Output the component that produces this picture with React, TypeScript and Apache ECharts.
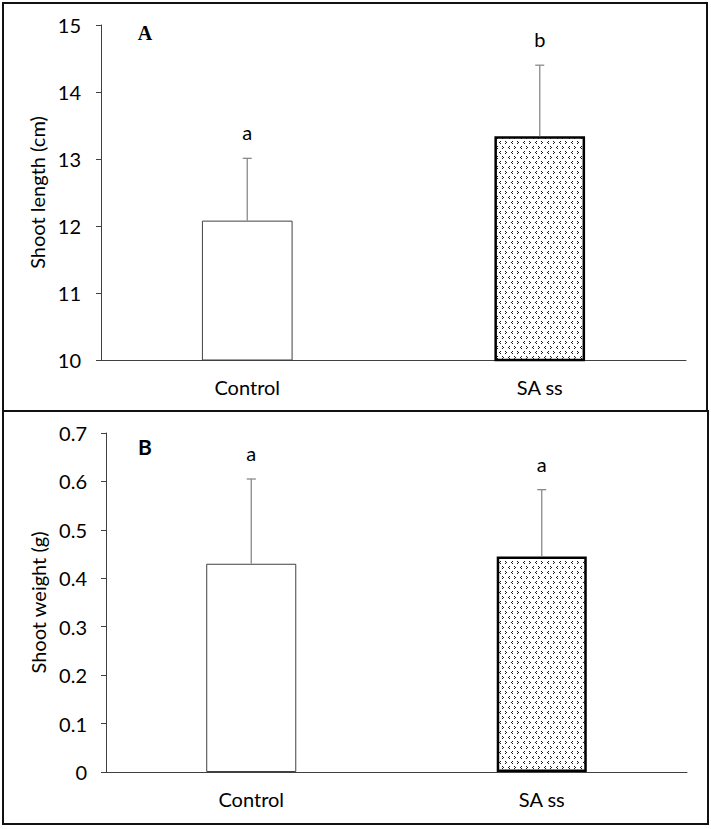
import React, { useEffect, useRef } from 'react';
import * as echarts from 'echarts';

const categories = ['Control', 'SA ss'];

const lengthMeans = [12.08, 13.34];
const lengthErrTops = [13.01, 14.4];
const lengthLetters = ['a', 'b'];
const lengthAxis = { min: 10, max: 15, interval: 1 };

const weightMeans = [0.43, 0.445];
const weightErrTops = [0.605, 0.583];
const weightLetters = ['a', 'a'];
const weightAxis = { min: 0, max: 0.7, interval: 0.1 };

const FONT = 'Lato';
const FS = 20;

function makePattern(): HTMLCanvasElement {
  const c = document.createElement('canvas');
  c.width = 12;
  c.height = 10;
  const ctx = c.getContext('2d')!;
  ctx.fillStyle = '#ffffff';
  ctx.fillRect(0, 0, 12, 10);
  ctx.fillStyle = '#1a1a1a';
  const gt = (x: number, y: number) => {
    ctx.fillRect(x, y, 1, 1);
    ctx.fillRect(x + 1, y + 1, 1, 1);
    ctx.fillRect(x, y + 2, 1, 1);
  };
  const lt = (x: number, y: number) => {
    ctx.fillRect(x + 1, y, 1, 1);
    ctx.fillRect(x, y + 1, 1, 1);
    ctx.fillRect(x + 1, y + 2, 1, 1);
  };
  gt(1, 1);
  lt(7, 1);
  lt(4, 6);
  gt(10, 6);
  return c;
}

export default function App() {
  const ref = useRef<HTMLDivElement>(null);
  useEffect(() => {
    if (!ref.current) return;
    const chart = echarts.init(ref.current, null, { renderer: 'svg' });
    const pattern = makePattern();
    const patternFill: any = { image: pattern, repeat: 'repeat', imageWidth: 12, imageHeight: 10 };

    const barData = (means: number[]) =>
      means.map((v, i) => ({
        value: v,
        itemStyle:
          i === 0
            ? { color: '#ffffff', borderColor: '#404040', borderWidth: 1 }
            : { color: patternFill, borderColor: '#000000', borderWidth: 2.5 },
      }));

    const errRender = (letters: string[]) => (params: any, api: any) => {
      const idx = api.value(0);
      const top = api.coord([idx, api.value(1)]);
      const base = api.coord([idx, api.value(2)]);
      const st = { stroke: '#8a8a8a', lineWidth: 1.3 };
      return {
        type: 'group',
        children: [
          { type: 'line', shape: { x1: top[0], y1: base[1], x2: top[0], y2: top[1] }, style: st },
          { type: 'line', shape: { x1: top[0] - 4.5, y1: top[1], x2: top[0] + 4.5, y2: top[1] }, style: st },
          {
            type: 'text',
            x: top[0],
            y: top[1] - 26,
            style: {
              text: letters[params.dataIndex],
              fill: '#000',
              font: `${FS}px ${FONT}`,
              align: 'center',
              verticalAlign: 'middle',
            },
          },
        ],
      };
    };

    const errData = (means: number[], tops: number[]) => means.map((m, i) => [i, tops[i], m]);

    const axisCommon = {
      axisLine: { show: true, lineStyle: { color: '#404040', width: 1 } },
      axisLabel: { color: '#000', fontFamily: FONT, fontSize: FS },
      splitLine: { show: false },
    };

    const nameStyle = { fontFamily: FONT, fontSize: FS, color: '#000' };

    chart.setOption({
      animation: false,
      backgroundColor: '#ffffff',
      grid: [
        { left: 101, right: 25, top: 25, bottom: 829 - 360 },
        { left: 106, right: 24, top: 433, bottom: 829 - 772 },
      ],
      xAxis: [0, 1].map((g) => ({
        type: 'category',
        gridIndex: g,
        data: categories,
        ...axisCommon,
        axisTick: { show: false },
        axisLabel: { ...axisCommon.axisLabel, margin: 17 },
      })),
      yAxis: [
        {
          type: 'value',
          gridIndex: 0,
          min: lengthAxis.min,
          max: lengthAxis.max,
          interval: lengthAxis.interval,
          ...axisCommon,
          axisTick: { show: true, length: 5, lineStyle: { color: '#404040' } },
          axisLabel: { ...axisCommon.axisLabel, margin: 20 },
          name: 'Shoot length (cm)',
          nameLocation: 'middle',
          nameGap: 50,
          nameTextStyle: nameStyle,
        },
        {
          type: 'value',
          gridIndex: 1,
          min: weightAxis.min,
          max: weightAxis.max,
          interval: weightAxis.interval,
          ...axisCommon,
          axisTick: { show: true, length: 5, lineStyle: { color: '#404040' } },
          axisLabel: { ...axisCommon.axisLabel, margin: 19 },
          name: 'Shoot weight (g)',
          nameLocation: 'middle',
          nameGap: 56,
          nameTextStyle: nameStyle,
        },
      ],
      series: [
        {
          type: 'bar',
          xAxisIndex: 0,
          yAxisIndex: 0,
          barWidth: '31%',
          data: barData(lengthMeans),
        },
        {
          type: 'custom',
          xAxisIndex: 0,
          yAxisIndex: 0,
          renderItem: errRender(lengthLetters),
          data: errData(lengthMeans, lengthErrTops),
          z: 5,
        },
        {
          type: 'bar',
          xAxisIndex: 1,
          yAxisIndex: 1,
          barWidth: '31%',
          data: barData(weightMeans),
        },
        {
          type: 'custom',
          xAxisIndex: 1,
          yAxisIndex: 1,
          renderItem: errRender(weightLetters),
          data: errData(weightMeans, weightErrTops),
          z: 5,
        },
      ],
      graphic: [
        {
          type: 'rect',
          shape: { x: 3, y: 3, width: 704, height: 408 },
          style: { fill: 'none', stroke: '#111', lineWidth: 2 },
          z: 10,
        },
        {
          type: 'rect',
          shape: { x: 3, y: 411, width: 705, height: 413 },
          style: { fill: 'none', stroke: '#111', lineWidth: 2 },
          z: 10,
        },
        {
          type: 'text',
          x: 145,
          y: 33,
          style: {
            text: 'A',
            font: 'bold 20px "Liberation Serif"',
            fill: '#000',
            align: 'center',
            verticalAlign: 'middle',
          },
        },
        {
          type: 'text',
          x: 145,
          y: 446,
          style: {
            text: 'B',
            font: `bold 21px ${FONT}`,
            fill: '#000',
            align: 'center',
            verticalAlign: 'middle',
          },
        },
      ],
    });
    return () => chart.dispose();
  }, []);
  return (
    <div
      ref={ref}
      style={{ position: 'fixed', left: 0, top: 0, width: 711, height: 829, background: '#fff' }}
    />
  );
}
